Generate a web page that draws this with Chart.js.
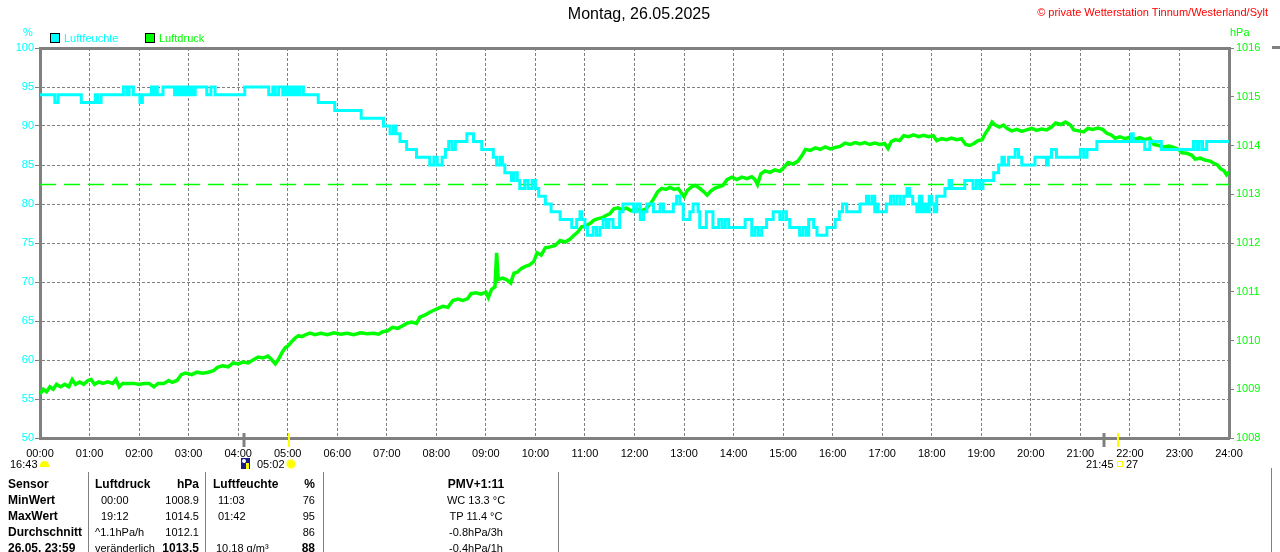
<!DOCTYPE html>
<html>
<head>
<meta charset="utf-8">
<script src="https://cdn.jsdelivr.net/npm/chart.js@4.4.1/dist/chart.umd.min.js"></script>
<style>
  body { margin: 0; width: 1280px; height: 552px; overflow: hidden; background: #fff; position: relative;
         font-family: "Liberation Sans", Arial, sans-serif; font-size: 11px; color: #000; }
  .abs { position: absolute; white-space: nowrap; line-height: 14px; }
  #wrap { position: absolute; left: 0; top: 0; width: 1280px; height: 470px; }
  .box { position: absolute; width: 8px; height: 8px; border: 1px solid #000; }
  .b { font-weight: bold; font-size: 12px; }
  .r { text-align: right; }
  .vline { position: absolute; width: 1px; background: #808080; }
</style>
</head>
<body>
<div id="wrap"><canvas id="chart"></canvas></div>

<div class="abs" style="left:0;width:1278px;text-align:center;top:5px;font-size:16px;line-height:18px;">Montag, 26.05.2025</div>
<div class="abs" style="right:12px;top:5px;color:#ff0000;">© private Wetterstation Tinnum/Westerland/Sylt</div>
<div class="abs" style="left:23px;top:25px;color:#00ffff;">%</div>
<div class="abs" style="left:1230px;top:25px;color:#00ff00;">hPa</div>
<div class="box" style="left:50px;top:33px;background:#00ffff;"></div>
<div class="abs" style="left:64px;top:31px;color:#00ffff;">Luftfeuchte</div>
<div class="box" style="left:145px;top:33px;background:#00ff00;"></div>
<div class="abs" style="left:159px;top:31px;color:#00ff00;">Luftdruck</div>

<!-- moon / sun line under the time axis -->
<div class="abs" style="left:10px;top:457px;">16:43</div>
<div style="position:absolute;left:40px;top:461px;width:9px;height:6px;background:#ffff00;border-radius:5px 5px 0 0;"></div>
<div style="position:absolute;left:241px;top:458px;width:9px;height:11px;background:#1a1a80;">
  <div style="position:absolute;left:1px;top:1px;width:4px;height:4px;background:#fff;border-radius:2px;"></div>
  <div style="position:absolute;left:5px;top:5px;width:3px;height:6px;background:#ffff00;"></div>
</div>
<div class="abs" style="left:257px;top:457px;">05:02</div>
<div style="position:absolute;left:287px;top:460px;width:8px;height:8px;background:#ffff00;border-radius:4px;box-shadow:0 0 1px 1px #ffff80;"></div>
<div class="abs" style="left:1086px;top:457px;">21:45</div>
<div style="position:absolute;left:1117px;top:461px;width:4px;height:4px;border:1px solid #ffff00;"></div>
<div class="abs" style="left:1126px;top:457px;">27</div>

<!-- table -->
<div class="vline" style="left:88px;top:472px;height:80px;"></div>
<div class="vline" style="left:205px;top:472px;height:80px;"></div>
<div class="vline" style="left:323px;top:472px;height:80px;"></div>
<div class="vline" style="left:558px;top:472px;height:80px;"></div>
<div class="vline" style="left:1271px;top:468px;height:84px;"></div>
<div style="position:absolute;left:1272px;top:46px;width:8px;height:3px;background:#808080;"></div>

<div class="abs b" style="left:8px;top:477px;">Sensor</div>
<div class="abs b" style="left:95px;top:477px;">Luftdruck</div>
<div class="abs b r" style="right:1081px;top:477px;">hPa</div>
<div class="abs b" style="left:213px;top:477px;">Luftfeuchte</div>
<div class="abs b r" style="right:965px;top:477px;">%</div>
<div class="abs b" style="left:376px;width:200px;text-align:center;top:477px;">PMV+1:11</div>

<div class="abs b" style="left:8px;top:493px;">MinWert</div>
<div class="abs" style="left:101px;top:493px;">00:00</div>
<div class="abs r" style="right:1081px;top:493px;">1008.9</div>
<div class="abs" style="left:218px;top:493px;">11:03</div>
<div class="abs r" style="right:965px;top:493px;">76</div>
<div class="abs" style="left:376px;width:200px;text-align:center;top:493px;">WC 13.3 °C</div>

<div class="abs b" style="left:8px;top:509px;">MaxWert</div>
<div class="abs" style="left:101px;top:509px;">19:12</div>
<div class="abs r" style="right:1081px;top:509px;">1014.5</div>
<div class="abs" style="left:218px;top:509px;">01:42</div>
<div class="abs r" style="right:965px;top:509px;">95</div>
<div class="abs" style="left:376px;width:200px;text-align:center;top:509px;">TP 11.4 °C</div>

<div class="abs b" style="left:8px;top:525px;">Durchschnitt</div>
<div class="abs" style="left:95px;top:525px;">^1.1hPa/h</div>
<div class="abs r" style="right:1081px;top:525px;">1012.1</div>
<div class="abs r" style="right:965px;top:525px;">86</div>
<div class="abs" style="left:376px;width:200px;text-align:center;top:525px;">-0.8hPa/3h</div>

<div class="abs b" style="left:8px;top:541px;">26.05. 23:59</div>
<div class="abs" style="left:95px;top:541px;">veränderlich</div>
<div class="abs b r" style="right:1081px;top:541px;">1013.5</div>
<div class="abs" style="left:216px;top:541px;">10.18 g/m³</div>
<div class="abs b r" style="right:965px;top:541px;">88</div>
<div class="abs" style="left:376px;width:200px;text-align:center;top:541px;">-0.4hPa/1h</div>

<script>
// [minute of day, %]
const humidityReadings = [
  [0,94],[18,93],[22,94],[50,93],[67,94],[70,93],[74,94],[101,95],[105,94],[108,95],[113,94],
  [121,93],[124,94],[135,95],[138,94],[140,95],[142,94],[149,95],[163,94],[165,95],[168,94],
  [170,95],[173,94],[176,95],[179,94],[182,95],[185,94],[188,95],[202,94],[207,95],[212,94],
  [248,95],[277,94],[282,95],[285,94],[289,95],[294,94],[297,95],[300,94],[303,95],[306,94],
  [309,95],[312,94],[315,95],[319,94],[337,93],[357,92],[389,91],[416,90],[424,89],[428,90],
  [431,89],[436,88],[444,87],[456,86],[472,85],[477,86],[481,85],[487,86],[491,87],[495,88],
  [499,87],[503,88],[517,89],[525,88],[535,87],[549,86],[553,85],[557,86],[560,85],[563,84],
  [571,83],[574,84],[578,83],[581,82],[587,83],[591,82],[596,83],[600,82],[604,81],[612,80],
  [619,79],[630,78],[644,77],[650,78],[654,79],[656,78],[660,77],[663,76],[670,77],[674,76],
  [678,77],[682,78],[686,77],[689,78],[694,77],[702,79],[706,80],[719,79],[723,80],[727,78],
  [731,79],[735,80],[743,79],[751,80],[755,79],[767,80],[771,81],[775,80],[779,78],[787,79],
  [791,80],[797,79],[799,77],[807,79],[815,77],[822,78],[826,77],[830,78],[834,77],[854,78],
  [862,76],[866,77],[870,76],[874,77],[880,78],[888,79],[896,78],[900,79],[904,78],[908,77],
  [920,76],[924,77],[928,76],[931,78],[937,77],[941,76],[953,77],[963,78],[968,79],[972,80],
  [977,79],[993,80],[1001,81],[1004,80],[1008,81],[1011,79],[1013,80],[1015,79],[1025,80],
  [1030,81],[1034,80],[1038,81],[1042,80],[1046,81],[1050,82],[1053,81],[1057,80],[1062,79],
  [1065,81],[1068,79],[1071,80],[1074,79],[1077,81],[1080,80],[1083,79],[1086,81],[1096,82],
  [1101,83],[1104,82],[1120,83],[1130,82],[1134,83],[1138,82],[1142,83],[1155,84],[1161,85],
  [1165,86],[1168,85],[1173,86],[1181,87],[1185,86],[1189,85],[1205,86],[1219,85],[1221,86],
  [1225,87],[1231,86],[1260,87],[1264,86],[1268,87],[1280,88],[1322,89],[1324,88],[1338,87],
  [1344,88],[1358,87],[1397,88],[1401,87],[1404,88],[1408,87],[1413,88],[1440,88]
];

// [minute of day, hPa]
const pressureReadings = [
  [0,1008.90],[4,1009.00],[8,1008.95],[12,1009.05],[16,1009.00],[20,1009.10],[25,1009.05],
  [30,1009.10],[35,1009.05],[39,1009.20],[43,1009.10],[48,1009.15],[53,1009.10],[58,1009.18],
  [62,1009.20],[66,1009.10],[71,1009.15],[76,1009.12],[82,1009.15],[88,1009.12],[92,1009.20],
  [96,1009.05],[100,1009.12],[107,1009.12],[114,1009.12],[120,1009.10],[126,1009.12],
  [132,1009.12],[138,1009.05],[143,1009.12],[150,1009.12],[156,1009.18],[160,1009.14],
  [166,1009.18],[171,1009.30],[176,1009.33],[184,1009.30],[190,1009.35],[197,1009.33],
  [204,1009.35],[210,1009.38],[215,1009.45],[221,1009.48],[228,1009.46],[234,1009.54],
  [240,1009.52],[246,1009.56],[252,1009.54],[258,1009.60],[264,1009.66],[270,1009.64],
  [276,1009.68],[281,1009.60],[285,1009.52],[289,1009.62],[293,1009.75],[297,1009.85],
  [301,1009.90],[305,1009.98],[309,1010.05],[313,1010.10],[317,1010.08],[322,1010.12],
  [327,1010.15],[333,1010.12],[340,1010.15],[348,1010.12],[356,1010.16],[364,1010.13],
  [372,1010.15],[380,1010.12],[388,1010.16],[396,1010.14],[404,1010.15],[410,1010.13],
  [415,1010.18],[421,1010.20],[427,1010.27],[433,1010.25],[439,1010.30],[444,1010.35],
  [450,1010.38],[456,1010.35],[460,1010.48],[466,1010.52],[472,1010.58],[477,1010.62],
  [482,1010.66],[488,1010.70],[494,1010.68],[500,1010.82],[506,1010.85],[512,1010.82],
  [518,1010.86],[522,1010.96],[528,1010.98],[534,1010.95],[540,1010.99],[543,1010.88],
  [547,1011.05],[551,1011.10],[553,1011.80],[555,1011.25],[560,1011.28],[565,1011.25],
  [570,1011.18],[574,1011.38],[578,1011.40],[583,1011.48],[588,1011.52],[593,1011.55],
  [598,1011.62],[602,1011.80],[607,1011.75],[612,1011.90],[618,1011.92],[624,1011.95],
  [630,1012.05],[636,1012.02],[642,1012.08],[646,1012.15],[651,1012.22],[656,1012.33],
  [661,1012.35],[666,1012.40],[671,1012.47],[676,1012.50],[681,1012.52],[686,1012.57],
  [690,1012.60],[695,1012.70],[700,1012.72],[705,1012.68],[710,1012.72],[716,1012.66],
  [722,1012.70],[728,1012.66],[734,1012.70],[739,1012.80],[743,1012.90],[748,1013.05],
  [753,1013.12],[758,1013.10],[763,1013.14],[768,1013.10],[773,1013.12],[777,1013.02],
  [780,1012.95],[784,1013.08],[789,1013.15],[794,1013.18],[799,1013.12],[804,1013.05],
  [808,1012.98],[812,1013.06],[817,1013.12],[822,1013.15],[827,1013.18],[832,1013.30],
  [838,1013.35],[844,1013.30],[850,1013.35],[856,1013.32],[862,1013.36],[866,1013.30],
  [869,1013.20],[873,1013.42],[878,1013.48],[884,1013.45],[890,1013.50],[896,1013.47],
  [901,1013.55],[906,1013.65],[912,1013.62],[918,1013.68],[923,1013.80],[927,1013.92],
  [933,1013.90],[939,1013.95],[945,1013.92],[951,1013.97],[957,1013.93],[963,1013.96],
  [969,1013.98],[975,1014.05],[981,1014.02],[987,1014.06],[993,1014.03],[999,1014.06],
  [1005,1014.02],[1011,1014.05],[1017,1014.02],[1023,1014.04],[1027,1013.94],[1031,1014.08],
  [1036,1014.12],[1041,1014.10],[1046,1014.20],[1052,1014.18],[1058,1014.22],[1064,1014.18],
  [1070,1014.21],[1076,1014.18],[1082,1014.20],[1086,1014.10],[1092,1014.14],[1098,1014.12],
  [1104,1014.15],[1110,1014.12],[1116,1014.14],[1121,1014.02],[1126,1014.00],[1131,1014.04],
  [1136,1014.10],[1141,1014.12],[1145,1014.25],[1149,1014.35],[1153,1014.48],[1157,1014.42],
  [1162,1014.38],[1167,1014.42],[1171,1014.35],[1177,1014.30],[1183,1014.33],[1189,1014.29],
  [1195,1014.32],[1201,1014.35],[1207,1014.31],[1213,1014.34],[1219,1014.32],[1225,1014.38],
  [1230,1014.46],[1236,1014.43],[1242,1014.48],[1248,1014.42],[1252,1014.32],[1258,1014.30],
  [1264,1014.28],[1269,1014.35],[1275,1014.33],[1281,1014.36],[1287,1014.33],[1292,1014.25],
  [1297,1014.22],[1302,1014.15],[1308,1014.18],[1314,1014.14],[1320,1014.17],[1326,1014.13],
  [1332,1014.16],[1338,1014.12],[1344,1014.15],[1349,1014.02],[1355,1014.00],[1361,1013.97],
  [1367,1013.99],[1373,1013.96],[1379,1013.92],[1383,1013.85],[1389,1013.84],[1395,1013.80],
  [1399,1013.72],[1405,1013.74],[1411,1013.70],[1417,1013.68],[1421,1013.64],[1426,1013.60],
  [1430,1013.52],[1434,1013.48],[1437,1013.40],[1440,1013.46]
];

const pressureReference = 1013.2;
const moonTimes = ['04:07', '21:29'];
const sunTimes = ['05:02', '21:45'];

function toHours(hhmm) {
  let p = hhmm.split(':');
  return parseInt(p[0], 10) + parseInt(p[1], 10) / 60;
}

function hourLabel(v) {
  return String(v).padStart(2, '0') + ':00';
}

let markerPlugin = {
  id: 'dayMarkers',
  afterDraw: function (chart) {
    let ctx = chart.ctx;
    let x = chart.scales.x;
    let bottom = chart.chartArea.bottom;
    let mark = function (t, color, width) {
      let px = Math.round(x.getPixelForValue(toHours(t)));
      ctx.save();
      ctx.strokeStyle = color;
      ctx.lineWidth = width;
      ctx.beginPath();
      ctx.moveTo(px, bottom - 5);
      ctx.lineTo(px, bottom + 9);
      ctx.stroke();
      ctx.restore();
    };
    moonTimes.forEach(t => mark(t, '#808080', 3));
    sunTimes.forEach(t => mark(t, '#ffff00', 2));
  }
};

Chart.defaults.font.family = '"Liberation Sans", Arial, sans-serif';
Chart.defaults.font.size = 11;

let chart = new Chart(document.getElementById('chart'), {
  type: 'line',
  data: {
    datasets: [{
      label: 'Luftfeuchte',
      data: humidityReadings.map(r => ({ x: r[0] / 60, y: r[1] })),
      borderColor: '#00ffff',
      borderWidth: 3,
      stepped: 'before',
      pointRadius: 0,
      borderJoinStyle: 'miter',
      yAxisID: 'y'
    }, {
      label: 'Luftdruck',
      data: pressureReadings.map(r => ({ x: r[0] / 60, y: r[1] })),
      borderColor: '#00ff00',
      borderWidth: 3.5,
      pointRadius: 0,
      tension: 0,
      yAxisID: 'y1'
    }, {
      label: 'Referenz',
      data: [{ x: 0, y: pressureReference }, { x: 24, y: pressureReference }],
      borderColor: '#00ff00',
      borderWidth: 1.5,
      borderDash: [16, 8],
      pointRadius: 0,
      yAxisID: 'y1'
    }]
  },
  options: {
    responsive: true,
    maintainAspectRatio: false,
    animation: false,
    layout: { padding: { top: 48, left: 0, right: 0, bottom: 0 } },
    plugins: { legend: { display: false }, tooltip: { enabled: false } },
    scales: {
      x: {
        type: 'linear', position: 'bottom', min: 0, max: 24,
        afterFit: s => { s.height = 32; },
        ticks: { stepSize: 1, color: '#000', padding: 9, maxRotation: 0, autoSkip: false, callback: hourLabel },
        grid: { color: '#808080', lineWidth: 1, drawTicks: false },
        border: { color: '#808080', width: 3, dash: [3, 2] }
      },
      xTop: {
        type: 'linear', position: 'top', min: 0, max: 24,
        afterFit: s => { s.height = 0; },
        ticks: { display: false },
        grid: { display: false },
        border: { color: '#808080', width: 3 }
      },
      y: {
        type: 'linear', position: 'left', min: 50, max: 100,
        afterFit: s => { s.width = 40; },
        ticks: { stepSize: 5, color: '#00ffff', padding: 1, callback: v => String(v) },
        grid: { color: '#808080', lineWidth: 1, tickLength: 5 },
        border: { color: '#808080', width: 3, dash: [3, 2] }
      },
      y1: {
        type: 'linear', position: 'right', min: 1008, max: 1016,
        afterFit: s => { s.width = 51; },
        ticks: { stepSize: 1, color: '#00ff00', padding: 2, callback: v => String(v) },
        grid: { drawOnChartArea: false, color: '#808080', tickLength: 5 },
        border: { color: '#808080', width: 3 }
      }
    }
  },
  plugins: [markerPlugin]
});
</script>
</body>
</html>
